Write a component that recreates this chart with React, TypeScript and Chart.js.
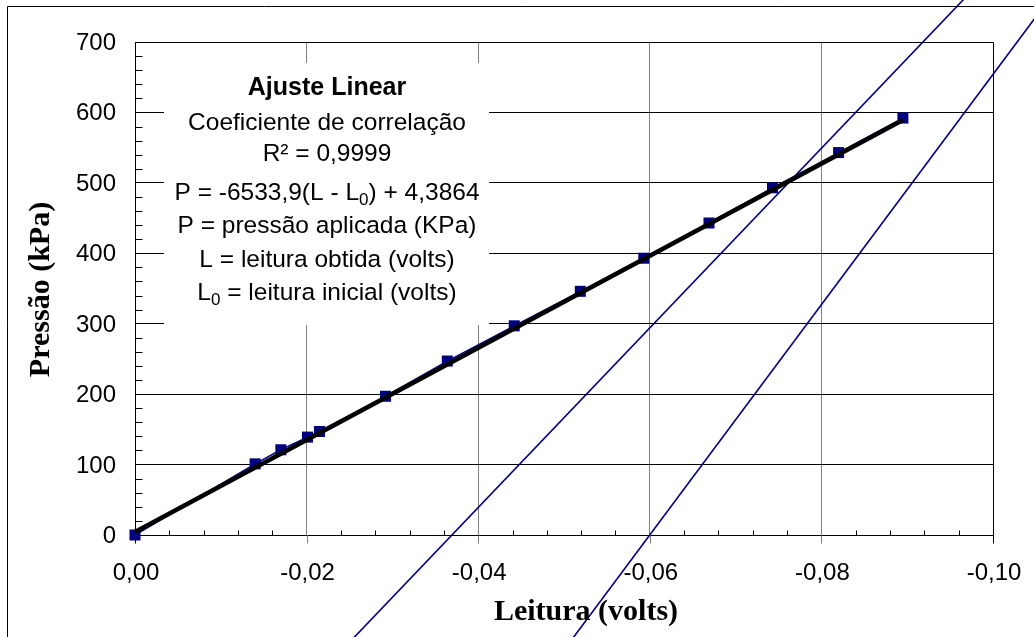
import React, { useEffect, useRef } from 'react';
import { Chart, registerables } from 'chart.js';

Chart.register(...registerables);

// ---- Data ----
const leituras = [0, -0.0140, -0.0170, -0.0201, -0.0215, -0.0292, -0.0364, -0.0442, -0.0519, -0.0593, -0.0669, -0.0743, -0.0820, -0.0895];
const pressoes = [0, 101, 121, 139, 147, 197, 247, 297, 346, 393, 443, 493, 543, 592];

// linear fit (P = -6533,9(L - L0) + 4,3864), drawn between first and last reading
const ajusteLeitura = [0, -0.0895];
const ajustePressao = [4.4, 589.2];

// two stray blue straight lines (extend beyond the plot)
const reta1Leitura = [-0.0240, -0.0985];
const reta1Pressao = [-165, 785];
const reta2Leitura = [-0.0499, -0.1060];
const reta2Pressao = [-165, 752];

const xTickValues = [0, -0.02, -0.04, -0.06, -0.08, -0.1];
const xTickLabels = ['0,00', '-0,02', '-0,04', '-0,06', '-0,08', '-0,10'];
const yTickValues = [0, 100, 200, 300, 400, 500, 600, 700];
const yTickLabels = ['0', '100', '200', '300', '400', '500', '600', '700'];

const xTitle = 'Leitura (volts)';
const yTitle = 'Pressão (kPa)';

type Seg = { t: string; sub?: boolean };
const annotationTitle = 'Ajuste Linear';
const annotationLines: Seg[][] = [
  [{ t: 'Coeficiente de correlação' }],
  [{ t: 'R² = 0,9999' }],
  [{ t: 'P = -6533,9(L - L' }, { t: '0', sub: true }, { t: ') + 4,3864' }],
  [{ t: 'P = pressão aplicada (KPa)' }],
  [{ t: 'L = leitura obtida (volts)' }],
  [{ t: 'L' }, { t: '0', sub: true }, { t: ' = leitura inicial (volts)' }],
];

const SANS = '"Liberation Sans", Arial, Helvetica, sans-serif';
const SERIF = '"Liberation Serif", "Times New Roman", serif';

function drawRich(ctx: CanvasRenderingContext2D, segs: Seg[], cx: number, baseline: number, size: number, bold: boolean) {
  const normal = `${bold ? 'bold ' : ''}${size}px ${SANS}`;
  const sub = `${Math.round(size * 0.68)}px ${SANS}`;
  let total = 0;
  for (const s of segs) {
    ctx.font = s.sub ? sub : normal;
    total += ctx.measureText(s.t).width;
  }
  let xx = cx - total / 2;
  ctx.textAlign = 'left';
  ctx.textBaseline = 'alphabetic';
  for (const s of segs) {
    ctx.font = s.sub ? sub : normal;
    ctx.fillText(s.t, xx, baseline + (s.sub ? size * 0.2 : 0));
    xx += ctx.measureText(s.t).width;
  }
}

const decorPlugin = {
  id: 'decor',
  beforeDatasetsDraw(chart: any) {
    const { ctx, chartArea: a, scales } = chart;
    const xs = scales.x;
    const ys = scales.y;
    const L = Math.round(a.left) + 0.5;
    const T = Math.round(a.top) + 0.5;
    const R = Math.round(a.right) + 0.5;
    const B = Math.round(a.bottom) + 0.5;
    ctx.save();
    ctx.lineWidth = 1;
    // white annotation box (hides grid lines)
    ctx.fillStyle = '#ffffff';
    ctx.fillRect(164, 63, 325, 262);
    // plot frame
    ctx.strokeStyle = '#000000';
    ctx.beginPath();
    ctx.moveTo(L, T); ctx.lineTo(R, T); ctx.lineTo(R, B); ctx.lineTo(L, B); ctx.closePath();
    ctx.stroke();
    // minor ticks
    ctx.beginPath();
    for (let v = 20; v < 700; v += 20) {
      if (v % 100 === 0) continue;
      const py = Math.round(ys.getPixelForValue(v)) + 0.5;
      ctx.moveTo(L, py); ctx.lineTo(L + 7, py);
    }
    for (let i = 1; i < 25; i++) {
      if (i % 5 === 0) continue;
      const px = Math.round(xs.getPixelForValue(-i * 0.004)) + 0.5;
      ctx.moveTo(px, B); ctx.lineTo(px, B - 5);
    }
    ctx.stroke();
    // major x ticks below the axis
    xTickValues.forEach((v, i) => {
      const px = Math.round(xs.getPixelForValue(v)) + 0.5;
      ctx.strokeStyle = i === 0 || i === xTickValues.length - 1 ? '#000000' : '#808080';
      ctx.beginPath();
      ctx.moveTo(px, B); ctx.lineTo(px, B + 8);
      ctx.stroke();
    });
    ctx.restore();
  },
  afterDraw(chart: any) {
    const { ctx, chartArea: a, scales } = chart;
    const xs = scales.x;
    const ys = scales.y;
    ctx.save();
    ctx.fillStyle = '#000000';
    // tick labels
    ctx.font = `24px ${SANS}`;
    ctx.textBaseline = 'alphabetic';
    ctx.textAlign = 'right';
    yTickValues.forEach((v, i) => {
      ctx.fillText(yTickLabels[i], 116, ys.getPixelForValue(v) + 8);
    });
    ctx.textAlign = 'center';
    xTickValues.forEach((v, i) => {
      ctx.fillText(xTickLabels[i], xs.getPixelForValue(v) + 1, 580);
    });
    // axis titles
    ctx.font = `bold 30px ${SERIF}`;
    ctx.textAlign = 'center';
    ctx.fillText(xTitle, 586, 620);
    ctx.save();
    ctx.translate(41, (a.top + a.bottom) / 2 + 1);
    ctx.rotate(-Math.PI / 2);
    ctx.textBaseline = 'middle';
    ctx.fillText(yTitle, 0, 0);
    ctx.restore();
    // annotation text
    drawRich(ctx, [{ t: annotationTitle }], 327, 95, 25, true);
    const baselines = [130, 161, 200, 233, 267, 300];
    annotationLines.forEach((segs, i) => drawRich(ctx, segs, 327, baselines[i], 24.5, false));
    // outer frame (top and left edges visible)
    ctx.strokeStyle = '#000000';
    ctx.lineWidth = 1;
    ctx.beginPath();
    ctx.moveTo(7.5, 640); ctx.lineTo(7.5, 6.5); ctx.lineTo(1040, 6.5);
    ctx.stroke();
    ctx.restore();
  },
};

export default function App() {
  const canvasRef = useRef<HTMLCanvasElement | null>(null);

  useEffect(() => {
    const canvas = canvasRef.current;
    if (!canvas) return;
    const pts = leituras.map((x, i) => ({ x, y: pressoes[i] }));
    const ajuste = ajusteLeitura.map((x, i) => ({ x, y: ajustePressao[i] }));
    const r1 = reta1Leitura.map((x, i) => ({ x, y: reta1Pressao[i] }));
    const r2 = reta2Leitura.map((x, i) => ({ x, y: reta2Pressao[i] }));

    const chart = new Chart(canvas, {
      type: 'scatter',
      data: {
        datasets: [
          {
            label: 'ajuste',
            data: ajuste,
            showLine: true,
            borderColor: '#000000',
            borderWidth: 4.5,
            pointRadius: 0,
            clip: false,
            order: 0,
          } as any,
          {
            label: 'pontos',
            data: pts,
            showLine: true,
            borderColor: '#000080',
            borderWidth: 1.5,
            pointStyle: 'rect',
            pointRadius: 7.8,
            pointBackgroundColor: '#000080',
            pointBorderColor: '#000080',
            pointBorderWidth: 0,
            clip: false,
            order: 1,
          } as any,
          {
            label: 'reta1',
            data: r1,
            showLine: true,
            borderColor: '#000080',
            borderWidth: 1.6,
            pointRadius: 0,
            clip: false,
            order: 2,
          } as any,
          {
            label: 'reta2',
            data: r2,
            showLine: true,
            borderColor: '#000080',
            borderWidth: 1.6,
            pointRadius: 0,
            clip: false,
            order: 2,
          } as any,
        ],
      },
      options: {
        animation: false,
        responsive: false,
        devicePixelRatio: 1,
        events: [],
        layout: { padding: { left: 135, top: 42, right: 41, bottom: 102 } },
        plugins: {
          legend: { display: false },
          tooltip: { enabled: false },
          title: { display: false },
        },
        scales: {
          x: {
            type: 'linear',
            min: -0.1,
            max: 0,
            reverse: true,
            afterFit: (s: any) => { s.height = 0; },
            ticks: { display: false, stepSize: 0.02 },
            grid: { color: '#808080', lineWidth: 1, drawTicks: false },
            border: { display: false },
          },
          y: {
            type: 'linear',
            min: 0,
            max: 700,
            afterFit: (s: any) => { s.width = 0; },
            ticks: { display: false, stepSize: 100 },
            grid: { color: '#000000', lineWidth: 1, drawTicks: false },
            border: { display: false },
          },
        },
      } as any,
      plugins: [decorPlugin],
    });
    return () => chart.destroy();
  }, []);

  return (
    <div style={{ position: 'absolute', left: 0, top: 0, width: 1034, height: 637, background: '#ffffff' }}>
      <canvas ref={canvasRef} width={1034} height={637} style={{ display: 'block', width: 1034, height: 637 }} />
    </div>
  );
}
